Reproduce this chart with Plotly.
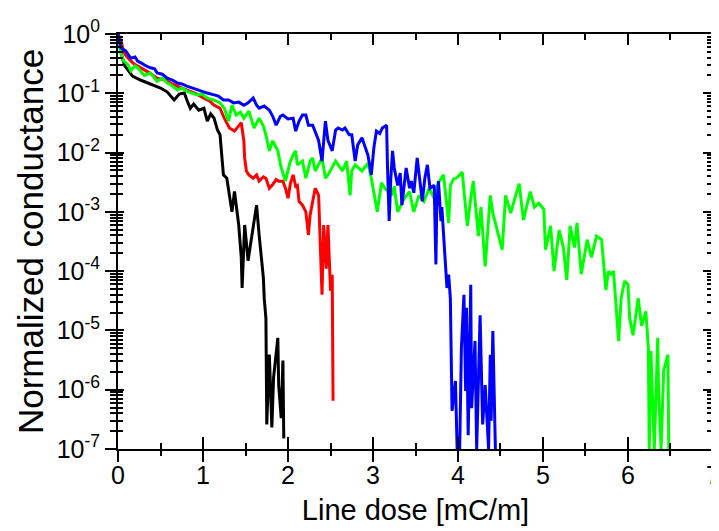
import plotly.graph_objects as go

# ---- data ----
black_x = [0.0, 0.035, 0.08, 0.17, 0.27, 0.35, 0.43, 0.50, 0.58, 0.66, 0.72, 0.78, 0.81, 0.85, 0.89,
           0.95, 1.01, 1.05, 1.09, 1.13, 1.17, 1.20, 1.22, 1.24, 1.28, 1.31, 1.34, 1.37, 1.42, 1.45,
           1.46, 1.49, 1.53, 1.57, 1.60, 1.63, 1.66, 1.71, 1.72, 1.74, 1.75, 1.78, 1.81, 1.83, 1.88,
           1.89, 1.92, 1.94, 1.95]
black_y = [1.0, 0.48, 0.29, 0.195, 0.166, 0.148, 0.132, 0.123, 0.105, 0.077, 0.097, 0.101, 0.077, 0.056, 0.066,
           0.052, 0.056, 0.034, 0.045, 0.038, 0.024, 0.020, 9.1e-3, 4.2e-3, 3.7e-3, 1.9e-3, 1.0e-3, 2.2e-3, 6.0e-4, 1.7e-4,
           5.2e-5, 6.0e-4, 1.5e-4, 3.6e-4, 6.5e-4, 1.3e-3, 4.1e-4, 7.7e-5, 3.5e-5, 1.6e-5, 2.6e-7, 3.9e-6, 2.3e-7, 1.6e-6, 7.5e-6,
           1.2e-6, 3.3e-7, 3.1e-6, 1.5e-7]

red_x = [0.0, 0.035, 0.07, 0.12, 0.19, 0.27, 0.35, 0.46, 0.56, 0.66, 0.75, 0.85, 0.93, 1.01, 1.08,
         1.13, 1.20, 1.25, 1.31, 1.37, 1.42, 1.45, 1.48, 1.49, 1.51, 1.54, 1.59, 1.63, 1.66, 1.71,
         1.74, 1.78, 1.82, 1.86, 1.89, 1.94, 1.97, 2.00, 2.03, 2.06, 2.09, 2.11, 2.13, 2.17, 2.21,
         2.24, 2.26, 2.30, 2.32, 2.36, 2.38, 2.40, 2.42, 2.45, 2.47, 2.50, 2.52, 2.53]
red_y = [1.0, 0.76, 0.48, 0.39, 0.31, 0.27, 0.23, 0.18, 0.167, 0.138, 0.123, 0.109, 0.097, 0.083, 0.074,
         0.063, 0.056, 0.038, 0.026, 0.023, 0.029, 0.032, 0.016, 8.1e-3, 4.9e-3, 4.2e-3, 3.7e-3, 4.2e-3, 3.3e-3, 3.9e-3,
         3.7e-3, 2.5e-3, 2.9e-3, 3.5e-3, 3.3e-3, 3.3e-3, 2.5e-3, 1.7e-3, 3.1e-3, 4.2e-3, 2.7e-3, 2.8e-3, 1.5e-3, 1.3e-3, 1.0e-3,
         4.1e-4, 8.9e-4, 1.7e-3, 2.5e-3, 1.9e-3, 3.2e-4, 4.0e-5, 6.0e-4, 1.1e-4, 6.0e-4, 4.7e-5, 8.7e-5, 6.5e-7]

green_x = [0.0, 0.02, 0.06, 0.12, 0.15, 0.20, 0.23, 0.28, 0.31, 0.38, 0.46, 0.52, 0.58, 0.64, 0.70,
           0.75, 0.81, 0.87, 0.93, 0.99, 1.05, 1.13, 1.20, 1.25, 1.30, 1.34, 1.39, 1.44, 1.48, 1.54,
           1.60, 1.66, 1.71, 1.74, 1.78, 1.82, 1.88, 1.92, 1.97, 2.02, 2.06, 2.09, 2.11, 2.17, 2.21,
           2.26, 2.29, 2.32, 2.40, 2.44, 2.47, 2.56, 2.64, 2.69, 2.73, 2.75, 2.79, 2.87, 2.94, 2.98,
           3.05, 3.10, 3.14, 3.22, 3.25, 3.29, 3.37, 3.43, 3.48, 3.54, 3.60, 3.66, 3.72, 3.77, 3.83,
           3.89, 3.91, 3.95, 3.98, 4.05, 4.11, 4.15, 4.18, 4.24, 4.27, 4.32, 4.38, 4.41, 4.46, 4.52,
           4.56, 4.62, 4.67, 4.72, 4.77, 4.82, 4.85, 4.90, 4.95, 5.01, 5.03, 5.09, 5.13, 5.19, 5.24,
           5.28, 5.32, 5.37, 5.40, 5.45, 5.49, 5.52, 5.57, 5.63, 5.69, 5.74, 5.77, 5.80, 5.83, 5.85,
           5.89, 5.92, 5.96, 6.00, 6.02, 6.06, 6.12, 6.16, 6.21, 6.24, 6.25, 6.27, 6.31, 6.35, 6.36,
           6.39, 6.42, 6.47, 6.48, 6.50]
green_y = [1.0, 0.58, 0.36, 0.30, 0.24, 0.29, 0.27, 0.22, 0.20, 0.22, 0.16, 0.18, 0.149, 0.133, 0.114,
           0.123, 0.109, 0.101, 0.094, 0.097, 0.083, 0.077, 0.069, 0.056, 0.034, 0.063, 0.043, 0.048, 0.038, 0.050,
           0.026, 0.038, 0.028, 0.020, 0.0107, 0.0158, 0.0107, 5.5e-3, 3.3e-3, 6.6e-3, 9.1e-3, 0.0107, 6.2e-3, 7.2e-3, 3.7e-3,
           7.2e-3, 8.1e-3, 4.9e-3, 8.1e-3, 3.7e-3, 4.2e-3, 7.2e-3, 4.9e-3, 7.2e-3, 1.9e-3, 4.9e-3, 6.2e-3, 4.9e-3, 6.6e-3, 3.7e-3,
           1.0e-3, 3.1e-3, 2.5e-3, 1.9e-3, 2.7e-3, 1.0e-3, 1.7e-3, 2.2e-3, 1.0e-3, 1.9e-3, 1.5e-3, 2.5e-3, 1.7e-3, 3.1e-3, 4.2e-3,
           6.5e-4, 2.8e-3, 3.6e-3, 3.7e-3, 4.7e-3, 5.8e-4, 1.7e-3, 3.3e-3, 3.9e-4, 1.2e-3, 1.2e-4, 1.9e-3, 9.5e-4, 4.9e-4, 2.3e-4,
           1.9e-3, 9.5e-4, 1.7e-3, 3.0e-3, 7.3e-4, 1.4e-3, 2.2e-3, 1.2e-3, 1.4e-3, 1.1e-3, 2.3e-4, 5.8e-4, 1.0e-4, 4.9e-4, 2.5e-4,
           7.1e-5, 5.8e-4, 2.5e-4, 6.5e-4, 8.9e-5, 2.0e-4, 3.4e-4, 1.7e-4, 3.9e-4, 3.4e-4, 4.8e-5, 1.0e-4, 8.9e-5, 1.0e-4, 3.6e-5,
           6.6e-6, 3.5e-5, 6.8e-5, 6.0e-5, 1.6e-5, 8.3e-6, 3.5e-5, 1.2e-5, 2.1e-5, 5.0e-6, 1.0e-7, 4.5e-6, 1.0e-7, 7.5e-6, 9.5e-7,
           1.0e-7, 2.1e-6, 3.9e-6, 1.0e-7, 1.0e-7]

blue_x = [0.0, 0.035, 0.09, 0.15, 0.20, 0.23, 0.28, 0.31, 0.38, 0.43, 0.46, 0.52, 0.58, 0.64, 0.70,
          0.75, 0.81, 0.87, 0.93, 0.99, 1.05, 1.13, 1.18, 1.24, 1.30, 1.36, 1.42, 1.48, 1.53, 1.59,
          1.63, 1.66, 1.72, 1.78, 1.82, 1.86, 1.91, 1.94, 2.00, 2.06, 2.09, 2.13, 2.17, 2.21, 2.24,
          2.29, 2.32, 2.36, 2.40, 2.44, 2.47, 2.52, 2.56, 2.59, 2.64, 2.67, 2.72, 2.75, 2.79, 2.82,
          2.87, 2.90, 2.94, 2.98, 3.01, 3.04, 3.08, 3.11, 3.16, 3.17, 3.19, 3.21, 3.23, 3.25, 3.29,
          3.32, 3.34, 3.39, 3.43, 3.45, 3.48, 3.52, 3.55, 3.58, 3.61, 3.64, 3.67, 3.72, 3.74, 3.75,
          3.77, 3.80, 3.81, 3.83, 3.84, 3.87, 3.89, 3.91, 3.93, 3.97, 3.99, 4.02, 4.04, 4.07, 4.09,
          4.10, 4.12, 4.15, 4.16, 4.20, 4.22, 4.24, 4.26, 4.29, 4.32, 4.36, 4.38, 4.39, 4.41, 4.44]
blue_y = [1.0, 0.58, 0.52, 0.39, 0.41, 0.35, 0.32, 0.30, 0.27, 0.26, 0.22, 0.21, 0.18, 0.167, 0.149,
          0.144, 0.132, 0.123, 0.114, 0.109, 0.101, 0.094, 0.090, 0.077, 0.077, 0.069, 0.071, 0.063, 0.069, 0.083,
          0.063, 0.056, 0.061, 0.052, 0.041, 0.029, 0.041, 0.043, 0.037, 0.038, 0.023, 0.034, 0.043, 0.043, 0.029,
          0.029, 0.023, 0.016, 7.2e-3, 0.034, 0.016, 0.0107, 0.024, 0.026, 0.024, 0.026, 0.020, 0.020, 7.2e-3, 0.0135,
          0.0178, 0.0135, 9.1e-3, 4.2e-3, 0.012, 0.023, 0.021, 0.026, 0.029, 6.2e-3, 7.0e-4, 3.7e-3, 0.0107, 5.5e-3, 2.8e-3,
          4.5e-3, 1.3e-3, 5.5e-3, 2.5e-3, 3.3e-3, 2.1e-3, 8.1e-3, 3.1e-3, 1.5e-3, 3.7e-3, 6.2e-3, 2.5e-3, 2.8e-3, 1.3e-4, 1.2e-3,
          3.3e-3, 7.0e-4, 1.2e-3, 4.1e-4, 1.9e-4, 5.2e-5, 8.7e-5, 3.5e-5, 4.4e-7, 1.4e-6, 1.0e-7, 1.0e-7, 5.0e-6, 4.0e-5, 9.5e-7,
          2.4e-5, 1.7e-7, 5.9e-5, 4.9e-7, 6.6e-6, 1.0e-7, 1.4e-6, 1.8e-5, 2.6e-7, 1.2e-6, 1.0e-7, 3.9e-6, 3.0e-7, 9.8e-6, 1.0e-7]

x_tickvals = [0, 1, 2, 3, 4, 5, 6, 7]
y_exponents = [0, -1, -2, -3, -4, -5, -6, -7]
y_tickvals = [10.0 ** e for e in y_exponents]
y_ticktext = ["10<sup>%d</sup>" % e for e in y_exponents]
y_minor = [m * 10.0 ** e for e in y_exponents[1:] for m in range(2, 10)]
x_minor = [0.5, 1.5, 2.5, 3.5, 4.5, 5.5, 6.5]

series = [
    (black_x, black_y, "#000000"),
    (red_x, red_y, "#FF0000"),
    (green_x, green_y, "#00FF00"),
    (blue_x, blue_y, "#0000FF"),
]

FONT = "Liberation Sans, Arial, sans-serif"

fig = go.Figure()
for xs, ys, col in series:
    fig.add_trace(go.Scatter(x=xs, y=ys, mode="lines", line=dict(color=col, width=3),
                             showlegend=False, hoverinfo="skip"))

# empty traces so that the extra tick axes are drawn
for xa, ya in [("x2", "y"), ("x3", "y"), ("x4", "y"), ("x", "y2"), ("x", "y3")]:
    fig.add_trace(go.Scatter(x=[], y=[], xaxis=xa, yaxis=ya, showlegend=False, hoverinfo="skip"))

xr = [-0.0005, 7.0005]
yr = [-7.0005, 0.0005]
common_x = dict(range=xr, tickvals=x_tickvals, showgrid=False, zeroline=False,
                linecolor="black", linewidth=2, tickcolor="black", tickwidth=2)
common_y = dict(type="log", range=yr, tickvals=y_tickvals, showgrid=False, zeroline=False,
                linecolor="black", linewidth=2, tickcolor="black", tickwidth=2)
hidden_tick = "rgba(0,0,0,0)"

fig.update_layout(
    width=719, height=531,
    margin=dict(l=110, r=7, t=26, b=90),
    plot_bgcolor="white", paper_bgcolor="white",
    font=dict(family=FONT, color="black", size=25),
    xaxis=dict(range=xr, tickvals=x_tickvals, showgrid=False, zeroline=False,
               linecolor="black", linewidth=2, showline=True,
               ticks="outside", ticklen=3, tickcolor=hidden_tick, ticklabeloverflow="allow",
               tickfont=dict(size=25), title=dict(text="Line dose [mC/m]", font=dict(size=29), standoff=12)),
    xaxis4=dict(**common_x, overlaying="x", side="bottom", anchor="y", showline=False,
                ticks="outside", ticklen=12, showticklabels=False,
                minor=dict(tickvals=x_minor, ticks="outside", ticklen=6, tickcolor="black", tickwidth=2)),
    xaxis2=dict(**common_x, overlaying="x", side="bottom", anchor="y", showline=False,
                ticks="inside", ticklen=12, showticklabels=False,
                minor=dict(tickvals=x_minor, ticks="inside", ticklen=6, tickcolor="black", tickwidth=2)),
    xaxis3=dict(**common_x, overlaying="x", side="top", anchor="y", showline=True,
                ticks="inside", ticklen=11, showticklabels=False,
                minor=dict(tickvals=x_minor, ticks="inside", ticklen=6, tickcolor="black", tickwidth=2)),
    yaxis=dict(**common_y, showline=True, ticks="outside", ticklen=11, ticktext=y_ticktext,
               ticklabeloverflow="allow",
               minor=dict(tickvals=y_minor, ticks="outside", ticklen=6, tickcolor="black", tickwidth=2),
               tickfont=dict(size=25), title=dict(text="Normalized conductance", font=dict(size=35), standoff=2)),
    yaxis2=dict(**common_y, overlaying="y", side="left", anchor="x", showline=False,
                ticks="inside", ticklen=6, showticklabels=False,
                minor=dict(tickvals=y_minor, ticks="inside", ticklen=5, tickcolor="black", tickwidth=2)),
    yaxis3=dict(**common_y, overlaying="y", side="right", anchor="x", showline=True,
                ticks="inside", ticklen=10, showticklabels=False,
                minor=dict(tickvals=y_minor, ticks="inside", ticklen=6, tickcolor="black", tickwidth=2)),
)

fig.write_html("out.html")
